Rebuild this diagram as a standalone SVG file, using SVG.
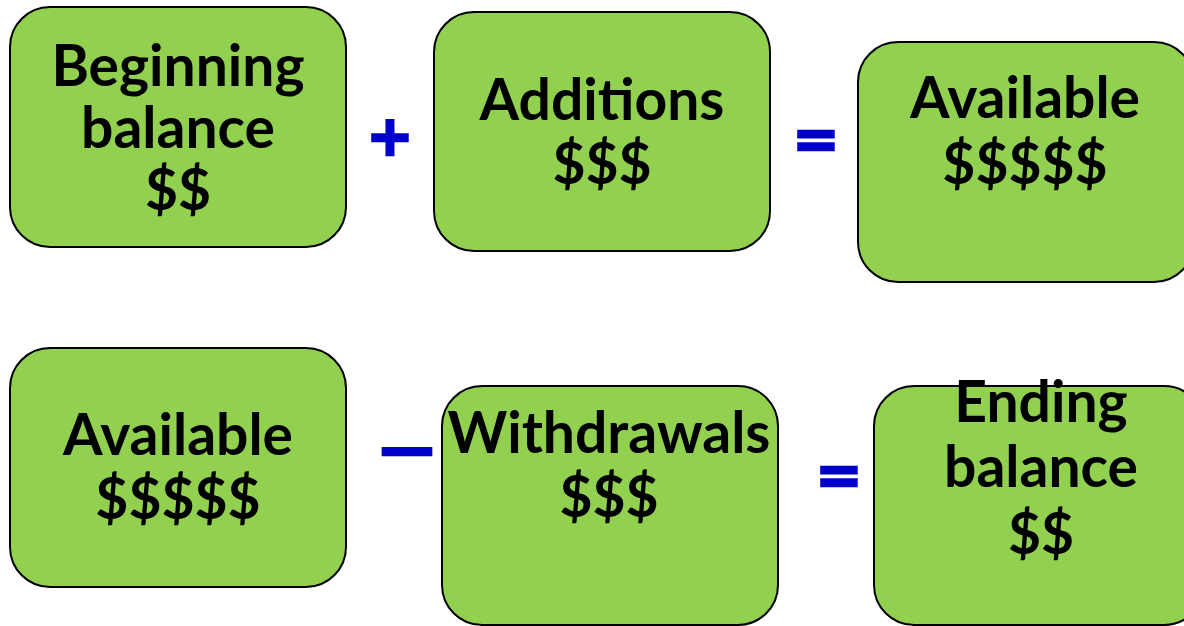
<svg xmlns="http://www.w3.org/2000/svg" width="1184" height="626" viewBox="0 0 1184 626">
<style>
.box{fill:#92D050;stroke:#000;stroke-width:2}
.t{font-family:Lato,"Open Sans",sans-serif;font-weight:bold;font-size:57px;fill:#000;text-anchor:middle}
.op{font-family:"DejaVu Sans",sans-serif;font-weight:bold;fill:#0000CC;stroke:#0000CC;stroke-width:2.5;text-anchor:middle}
</style>
<rect width="1184" height="626" fill="#fff"/>
<g id="beginning">
<rect class="box" x="10" y="7" width="336" height="240" rx="40"/>
<text class="t" x="178" y="86">Beginning</text>
<text class="t" x="178" y="148">balance</text>
<text class="t" x="178" y="210">$$</text>
</g>
<g id="additions">
<rect class="box" x="434" y="12" width="336" height="239" rx="40"/>
<text class="t" x="602" y="120">Additions</text>
<text class="t" x="602" y="184">$$$</text>
</g>
<g id="available1">
<rect class="box" x="858" y="42" width="336" height="240" rx="40"/>
<text class="t" x="1025" y="118">Available</text>
<text class="t" x="1025" y="184">$$$$$</text>
</g>
<g id="available2">
<rect class="box" x="10" y="348" width="336" height="239" rx="40"/>
<text class="t" x="178" y="455">Available</text>
<text class="t" x="178" y="519">$$$$$</text>
</g>
<g id="withdrawals">
<rect class="box" x="442" y="386" width="336" height="239" rx="40"/>
<text class="t" x="609" y="453">Withdrawals</text>
<text class="t" x="609" y="517">$$$</text>
</g>
<g id="ending">
<rect class="box" x="874" y="386" width="330" height="239" rx="40"/>
<text class="t" x="1041" y="422">Ending</text>
<text class="t" x="1041" y="487">balance</text>
<text class="t" x="1041" y="554">$$</text>
</g>
<g id="connectors">
<text class="op" x="390" y="155" font-size="56">+</text>
<text class="op" x="816" y="158" font-size="56">=</text>
<text class="op" x="407" y="466" font-size="54" stroke-width="4">—</text>
<text class="op" x="839" y="494" font-size="56">=</text>
</g>
</svg>
